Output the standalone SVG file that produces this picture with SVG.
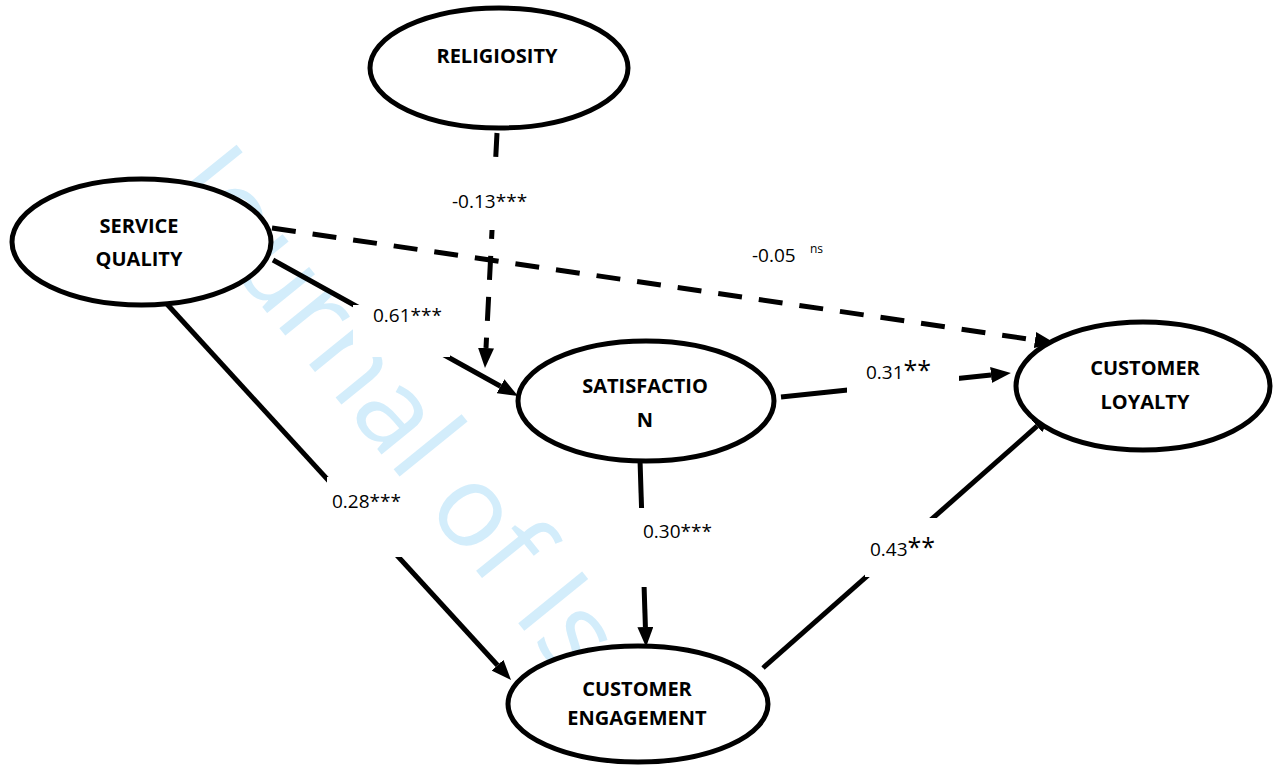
<svg xmlns="http://www.w3.org/2000/svg" width="1273" height="766" viewBox="0 0 1273 766">
  <defs>
    <style>
      .node ellipse { fill: #ffffff; stroke: #000000; stroke-width: 5; }
      .node text { font-family: "Open Sans", "Liberation Sans", sans-serif; font-weight: 700; font-size: 20px; fill: #000000; text-anchor: middle; }
      .edge { fill: none; stroke: #000000; stroke-width: 5; }
      .dash { stroke-dasharray: 24 17; }
      .lbl-box { fill: #ffffff; stroke: none; }
      .lbl { font-family: "Open Sans", "Liberation Sans", sans-serif; font-size: 19px; fill: #000000; }
      .big { font-size: 25px; }
      .sup { font-size: 12px; }
      .wm { font-family: "Open Sans", "Liberation Sans", sans-serif; font-size: 115px; fill: #d3edfb; }
    </style>
    <marker id="arrow" markerUnits="userSpaceOnUse" markerWidth="22" markerHeight="16" refX="0" refY="8" orient="auto" viewBox="0 0 22 16">
      <path d="M0,0 L20,8 L0,16 z" fill="#000000"/>
    </marker>
  </defs>

  <rect x="0" y="0" width="1273" height="766" fill="#ffffff"/>

  <g id="watermark">
    <text class="wm" transform="translate(166,188) rotate(51)">Journal of Is</text>
  </g>

  <g id="connectors">
    <line class="edge dash" x1="497" y1="133" x2="486" y2="348" marker-end="url(#arrow)"/>
    <line class="edge dash" x1="272" y1="228" x2="1035" y2="340" marker-end="url(#arrow)"/>
    <line class="edge" x1="273" y1="260" x2="500.5" y2="386.3" marker-end="url(#arrow)"/>
    <line class="edge" x1="166" y1="303" x2="497.5" y2="665.2" marker-end="url(#arrow)"/>
    <line class="edge" x1="781" y1="397" x2="991" y2="375" marker-end="url(#arrow)"/>
    <line class="edge" x1="640" y1="460" x2="645.4" y2="627" marker-end="url(#arrow)"/>
    <line class="edge" x1="763" y1="668" x2="1037" y2="426.2" marker-end="url(#arrow)"/>
  </g>

  <g id="labels">
    <rect class="lbl-box" x="445" y="160" width="92" height="70"/>
    <text class="lbl" x="452" y="208">-0.13***</text>

    <rect class="lbl-box" x="353" y="305" width="97" height="52"/>
    <text class="lbl" x="373" y="322">0.61***</text>

    <rect class="lbl-box" x="327" y="477" width="93" height="80"/>
    <text class="lbl" x="332" y="508">0.28***</text>

    <rect class="lbl-box" x="625" y="508" width="95" height="79"/>
    <text class="lbl" x="643" y="538">0.30***</text>

    <rect class="lbl-box" x="847" y="345" width="112" height="50"/>
    <text class="lbl" x="866" y="379">0.31<tspan class="big">**</tspan></text>

    <rect class="lbl-box" x="865" y="518" width="85" height="59"/>
    <text class="lbl" x="870" y="556">0.43<tspan class="big">**</tspan></text>

    <text class="lbl" x="752" y="262">-0.05 <tspan class="sup" x="810" y="253">ns</tspan></text>
  </g>

  <g id="religiosity" class="node">
    <ellipse cx="499" cy="68" rx="129" ry="60"/>
    <text x="497" y="63">RELIGIOSITY</text>
  </g>

  <g id="service-quality" class="node">
    <ellipse cx="141.5" cy="242" rx="129.5" ry="63"/>
    <text x="139" y="233">SERVICE</text>
    <text x="139" y="266">QUALITY</text>
  </g>

  <g id="satisfaction" class="node">
    <ellipse cx="646" cy="401" rx="128" ry="60"/>
    <text x="645" y="393">SATISFACTIO</text>
    <text x="645" y="427">N</text>
  </g>

  <g id="customer-loyalty" class="node">
    <ellipse cx="1143" cy="386" rx="127" ry="64"/>
    <text x="1145" y="375">CUSTOMER</text>
    <text x="1145" y="409">LOYALTY</text>
  </g>

  <g id="customer-engagement" class="node">
    <ellipse cx="638" cy="704" rx="130" ry="58"/>
    <text x="637" y="696">CUSTOMER</text>
    <text x="637" y="725">ENGAGEMENT</text>
  </g>
</svg>
